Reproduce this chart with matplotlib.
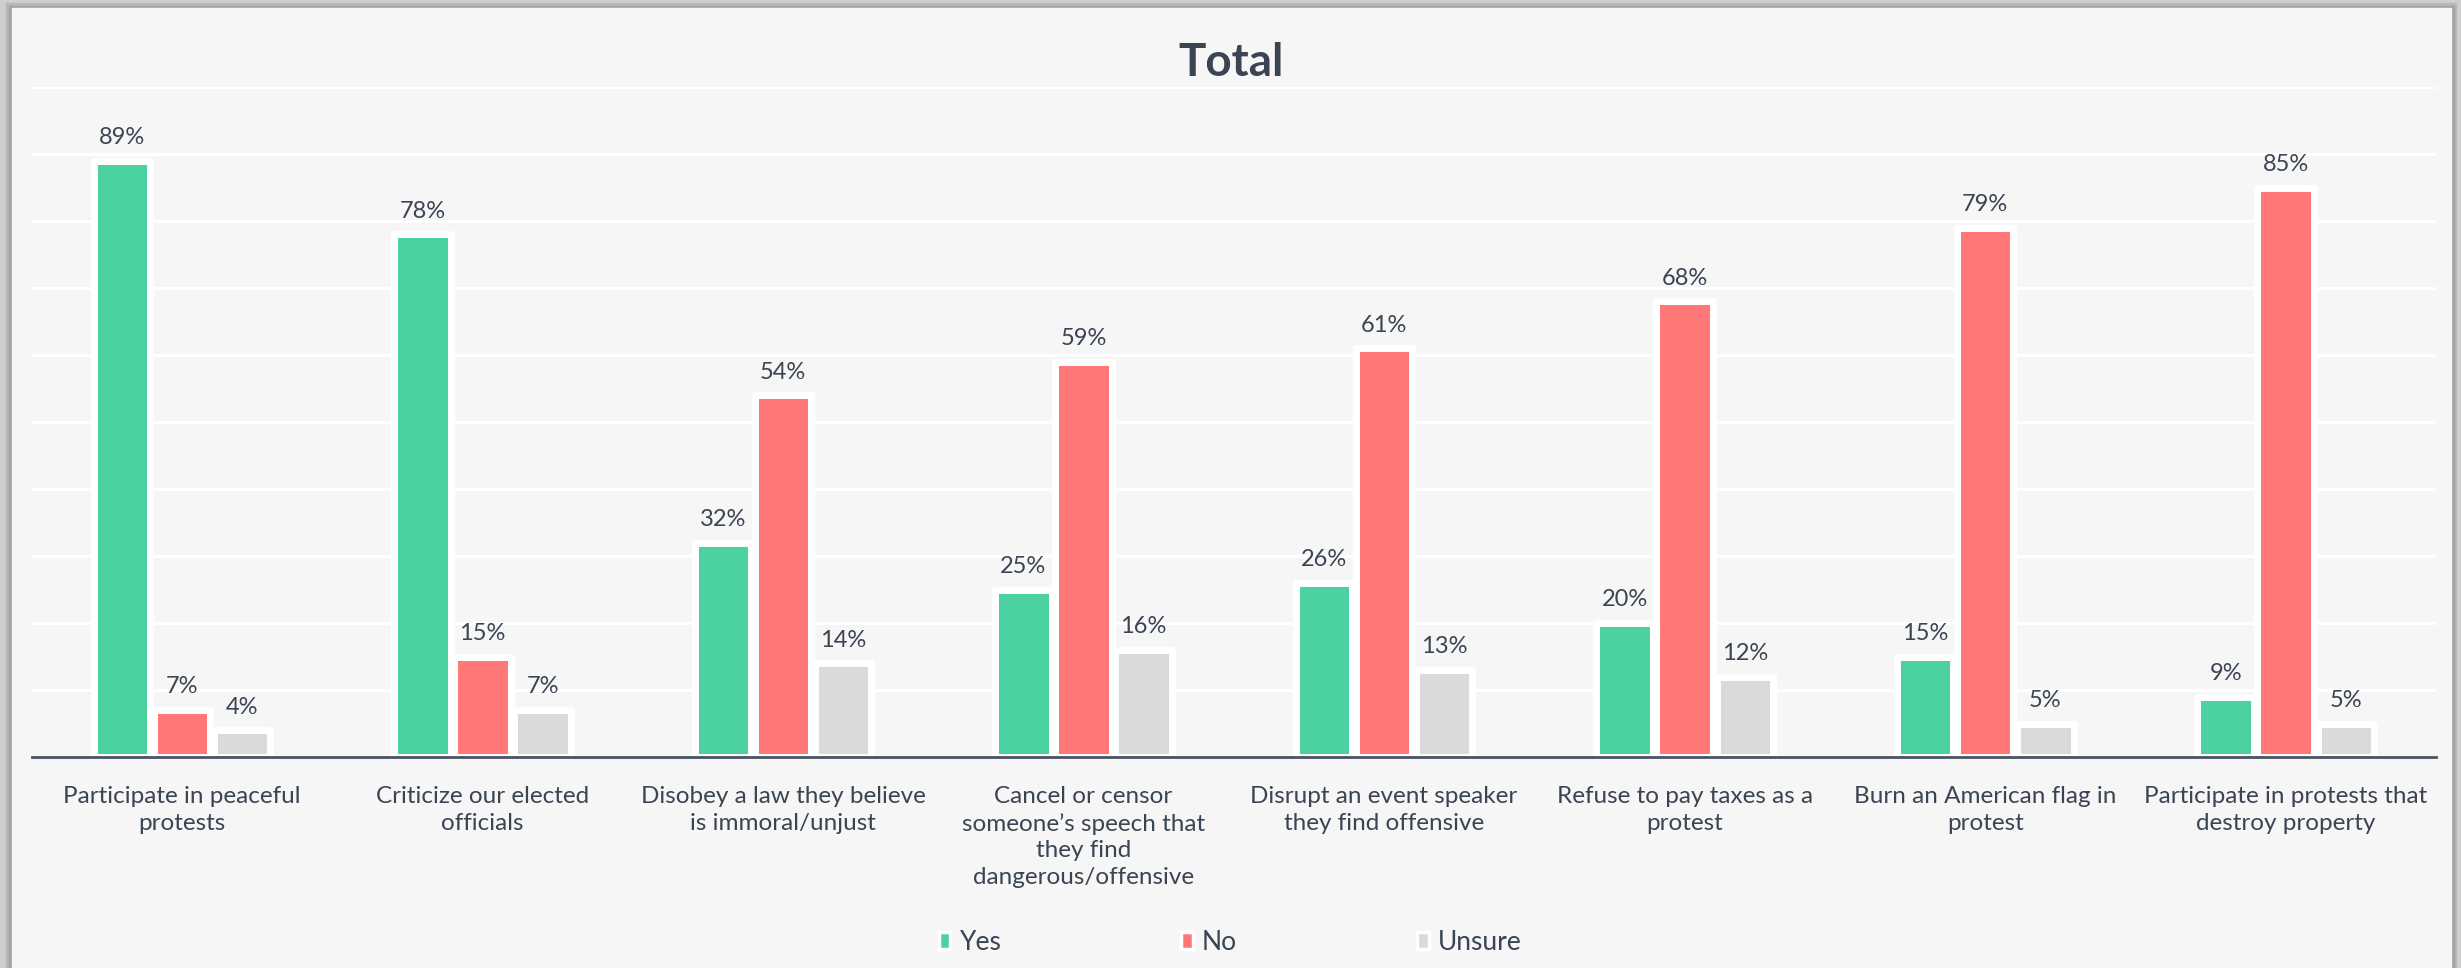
"""
plot.py
Grouped bar chart: "Total" Yes / No / Unsure responses for eight protest actions.
Output: out.png
"""

import numpy as np
import matplotlib.pyplot as plt
from matplotlib.patches import Patch, Rectangle

categories = [
    "Participate in peaceful\nprotests",
    "Criticize our elected\nofficials",
    "Disobey a law they believe\nis immoral/unjust",
    "Cancel or censor\nsomeone\u2019s speech that\nthey find\ndangerous/offensive",
    "Disrupt an event speaker\nthey find offensive",
    "Refuse to pay taxes as a\nprotest",
    "Burn an American flag in\nprotest",
    "Participate in protests that\ndestroy property",
]
yes    = [89, 78, 32, 25, 26, 20, 15, 9]
no     = [7, 15, 54, 59, 61, 68, 79, 85]
unsure = [4, 7, 14, 16, 13, 12, 5, 5]
series_names = ["Yes", "No", "Unsure"]

COLORS   = ["#4CD1A0", "#FF7777", "#DADADA"]
TEXT_CLR = "#3A4453"
BG       = "#F6F6F6"
W_PX, H_PX = 2461, 968
DPI = 100

plt.rcParams["font.family"] = ["Lato", "DejaVu Sans"]

fig = plt.figure(figsize=(W_PX / DPI, H_PX / DPI), dpi=DPI)
fig.patch.set_facecolor("#CFCFCF")

# panel with a soft shadow on the left, top and right (drawn behind the axes)
for x0, x1, top, clr in [(6, 2456, 3, "#B8B8B8"),
                         (9, 2454, 6, "#A2A2A2"),
                         (12, 2451, 8, BG)]:
    fig.patches.append(Rectangle((x0 / W_PX, 0), (x1 - x0) / W_PX, (H_PX - top) / H_PX,
                                 transform=fig.transFigure, color=clr, zorder=-5))

ax = fig.add_axes([31.7 / W_PX, (H_PX - 757) / H_PX,
                   (2436 - 31.7) / W_PX, (757 - 87) / H_PX])
ax.set_facecolor("none")

x = np.arange(len(categories))
step = 0.2
bar_w = 0.188
for i, (vals, color) in enumerate(zip([yes, no, unsure], COLORS)):
    pos = x + (i - 1) * step
    bars = ax.bar(pos, vals, width=bar_w, color=color, edgecolor="white",
                  linewidth=5.0, joinstyle="round", zorder=3)
    for b, v in zip(bars, vals):
        ax.annotate(f"{v}%", (b.get_x() + b.get_width() / 2, v),
                    xytext=(0, 12), textcoords="offset points",
                    ha="center", va="baseline", fontsize=17,
                    color=TEXT_CLR, zorder=4)

ax.set_xlim(-0.5, len(categories) - 0.5)
ax.set_ylim(0, 100)
ax.set_yticks(np.arange(0, 101, 10))
ax.set_yticklabels([])
ax.tick_params(axis="y", length=0)
ax.yaxis.grid(True, color="white", linewidth=2.2)
ax.set_axisbelow(True)

ax.set_xticks(x)
ax.set_xticklabels(categories, fontsize=17.5, color=TEXT_CLR, linespacing=1.32)
ax.tick_params(axis="x", length=0, pad=21)

for side in ["left", "right", "top"]:
    ax.spines[side].set_visible(False)
ax.spines["bottom"].set_color("#4A5261")
ax.spines["bottom"].set_linewidth(2.0)
ax.spines["bottom"].set_zorder(5)

fig.text(1231 / W_PX, (H_PX - 76) / H_PX, "Total", ha="center", va="baseline",
         fontsize=33, fontweight="bold", color=TEXT_CLR)

handles = [Patch(facecolor=c, edgecolor="white", linewidth=2.5) for c in COLORS]
fig.legend(handles, series_names, loc="center",
           bbox_to_anchor=(1230 / W_PX, (H_PX - 942) / H_PX),
           ncol=3, frameon=False, fontsize=19, labelcolor=TEXT_CLR,
           handlelength=0.45, handleheight=0.6, handletextpad=0.35,
           columnspacing=6.8)

fig.savefig("out.png", dpi=DPI, facecolor=fig.get_facecolor())
